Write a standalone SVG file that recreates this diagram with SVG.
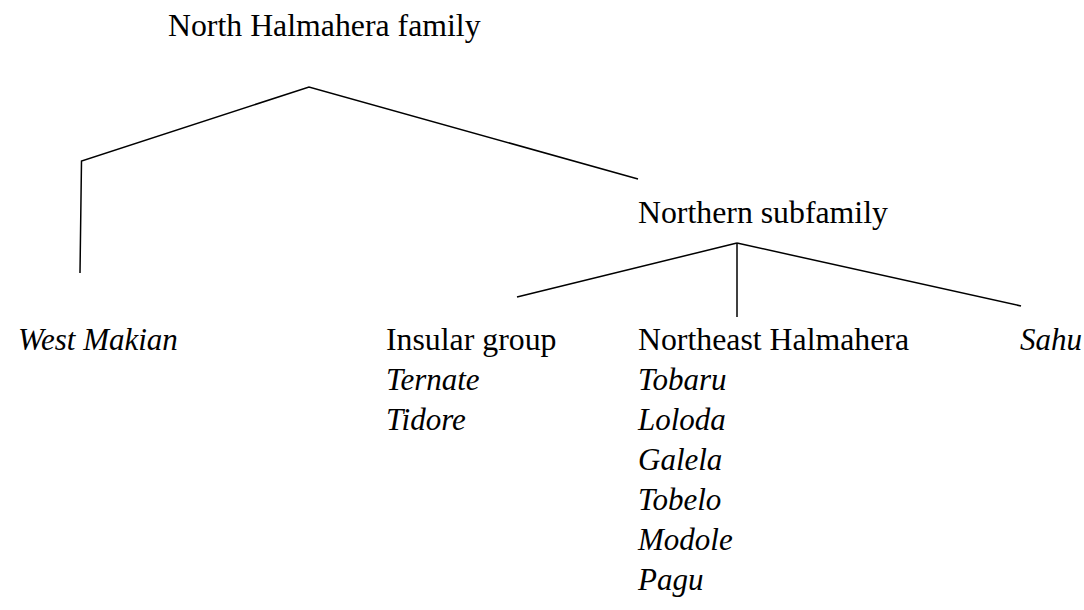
<svg xmlns="http://www.w3.org/2000/svg" width="1084" height="610" viewBox="0 0 1084 610">
<style>
text{font-family:"Liberation Serif","Times New Roman",serif;font-size:31.8px;fill:#000}
.i{font-style:italic;font-size:31px}
line,polyline{stroke:#000;stroke-width:1.5;fill:none}
</style>
<rect width="1084" height="610" fill="#fff"/>
<g id="connectors">
<polyline points="80,273 81.5,161 309,87 638,179"/>
<line x1="737" y1="243" x2="517" y2="297"/>
<line x1="737" y1="243" x2="737" y2="317"/>
<line x1="737" y1="243" x2="1021" y2="306"/>
</g>
<g id="root"><text x="168" y="36">North Halmahera family</text></g>
<g id="northern"><text x="638" y="223">Northern subfamily</text></g>
<g id="westmakian"><text class="i" x="18" y="350">West Makian</text></g>
<g id="insular"><text x="386" y="350">Insular group</text><text class="i" x="386" y="390">Ternate</text><text class="i" x="386" y="430">Tidore</text></g>
<g id="northeast"><text x="638" y="350">Northeast Halmahera</text><text class="i" x="638" y="390">Tobaru</text><text class="i" x="638" y="430">Loloda</text><text class="i" x="638" y="470">Galela</text><text class="i" x="638" y="510">Tobelo</text><text class="i" x="638" y="550">Modole</text><text class="i" x="638" y="590">Pagu</text></g>
<g id="sahu"><text class="i" x="1020" y="350">Sahu</text></g>
</svg>
